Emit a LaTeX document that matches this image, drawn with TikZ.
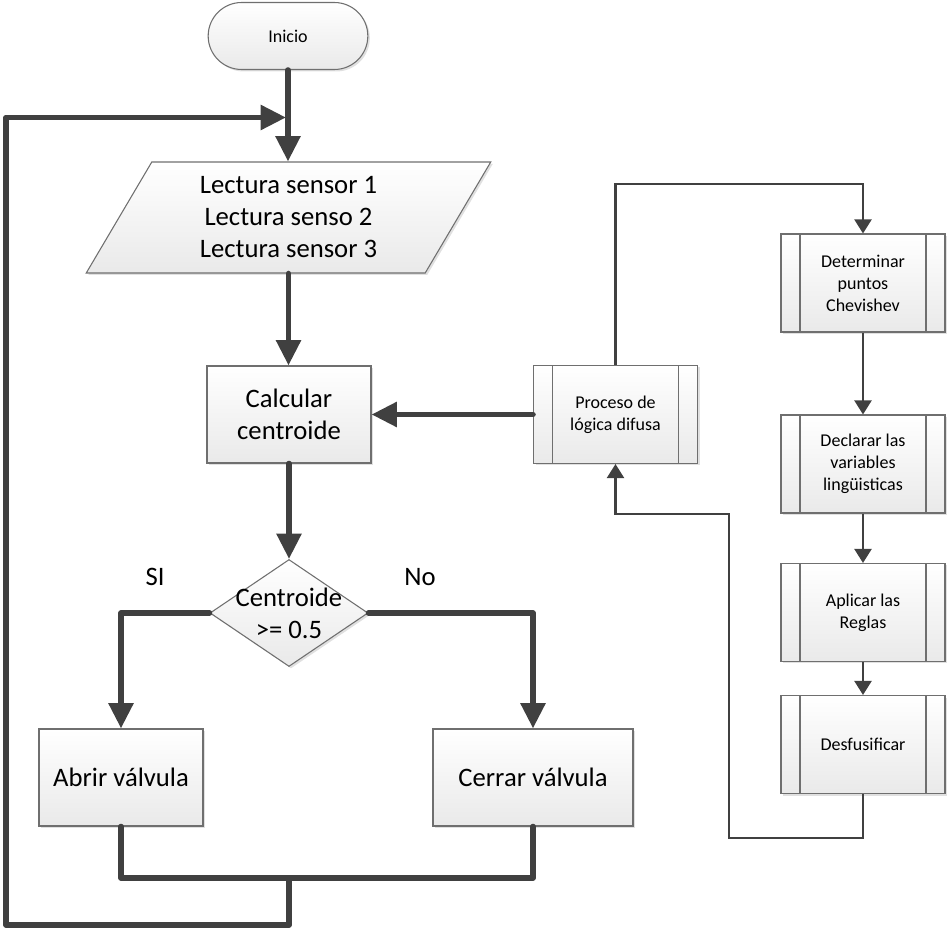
\documentclass[tikz,border=0pt]{standalone}
\usepackage{fontspec}
\setmainfont{Carlito}
\usepackage{tikz}
\usetikzlibrary{positioning,arrows.meta,shapes.geometric,shapes.misc,shadows}
\newlength\pxu
\setlength\pxu{0.75pt}
\definecolor{lnc}{HTML}{404040}
\definecolor{bdc}{HTML}{6F6F6F}
\tikzset{
  base/.style={draw=bdc,line width=0.8pt,top color=white,bottom color=gray!17,align=center,inner sep=2pt,
    drop shadow={shadow xshift=1.5pt,shadow yshift=-1.5pt,fill=gray!60,opacity=.4}},
  big/.style={font=\fontsize{20}{24}\selectfont},
  sml/.style={font=\fontsize{13.5}{16.5}\selectfont},
  term/.style={base,rounded rectangle,minimum width=165\pxu,minimum height=67\pxu,sml},
  io/.style={base,trapezium,trapezium stretches=true,trapezium left angle=63.2,trapezium right angle=116.8,
    minimum width=405\pxu,minimum height=111\pxu,big},
  blk/.style={base,rectangle,minimum width=164\pxu,minimum height=97\pxu,big},
  sub/.style={base,rectangle,minimum width=164\pxu,minimum height=98\pxu,sml,
    path picture={\draw[bdc,line width=0.8pt]
      ([xshift=19\pxu]path picture bounding box.north west) -- ([xshift=19\pxu]path picture bounding box.south west)
      ([xshift=-19\pxu]path picture bounding box.north east) -- ([xshift=-19\pxu]path picture bounding box.south east);}},
  dec/.style={base,diamond,minimum width=158\pxu,minimum height=107\pxu,inner sep=0pt},
  lnk/.style={line width=4.2pt,draw=lnc,line join=round,line cap=round},
  arr/.style={lnk,-{Triangle[length=19pt,width=18pt]}},
  arrs/.style={line width=1.6pt,draw=lnc,-{Triangle[length=10.5pt,width=12.75pt]}},
}

\begin{document}
\begin{tikzpicture}[x=\pxu,y=-\pxu]
  \useasboundingbox (0,0) rectangle (947,930);
  \node[term] (ini) at (288,36) {Inicio};
  \node[io] (lect) at (288.5,217.5) {Lectura sensor 1\\Lectura senso 2\\Lectura sensor 3};
  \node[blk] (calc) at (289,414.5) {Calcular\\centroide};
  \node[dec] (dec) at (289,613) {};
  \node[big,align=center] (dect) at (dec.center) {Centroide\\>= 0.5};
  \node[big] (si) at (155,577) {SI};
  \node[big] (no) at (420,577) {No};
  \node[blk] (abr) at (121,777.5) {Abrir válvula};
  \node[blk,minimum width=200\pxu] (cer) at (533,777.5) {Cerrar válvula};
  \node[sub] (proc) at (615.5,414.5) {Proceso de\\lógica difusa};
  \node[sub] (det) at (863,283) {Determinar\\puntos\\Chevishev};
  \node[sub] (decl) at (863,464) {Declarar las\\variables\\lingüisticas};
  \node[sub] (apl) at (863,612.5) {Aplicar las\\Reglas};
  \node[sub] (desf) at (863,744.5) {Desfusificar};
  \coordinate (jn) at (289,878);
  \coordinate (lb) at (6,925);
  \coordinate (in) at (286,117.5);
  \coordinate (pt) at (615.5,184);
  \coordinate (rb) at (729,838);
  \coordinate (rt) at (615.5,514);

  \draw[arr] (ini.south) -- (ini.south |- lect.north);
  \draw[arr] (lect.south) -- (lect.south |- calc.north);
  \draw[arr] (calc) -- (dec);
  \draw[arr] (dec.west) -| (abr.north);
  \draw[arr] (dec.east) -| (cer.north);
  \draw[lnk] (abr.south) |- (jn) -| (cer.south);
  \draw[arr] (jn) |- (lb) |- (in);
  \draw[arr] (proc.west) -- (calc.east);
  \draw[arrs] (proc.north) -- (pt) -| (det.north);
  \draw[arrs] (det) -- (decl);
  \draw[arrs] (decl) -- (apl);
  \draw[arrs] (apl) -- (desf);
  \draw[arrs] (desf.south) |- (rb) |- (rt) -- (proc.south);
\end{tikzpicture}
\end{document}
